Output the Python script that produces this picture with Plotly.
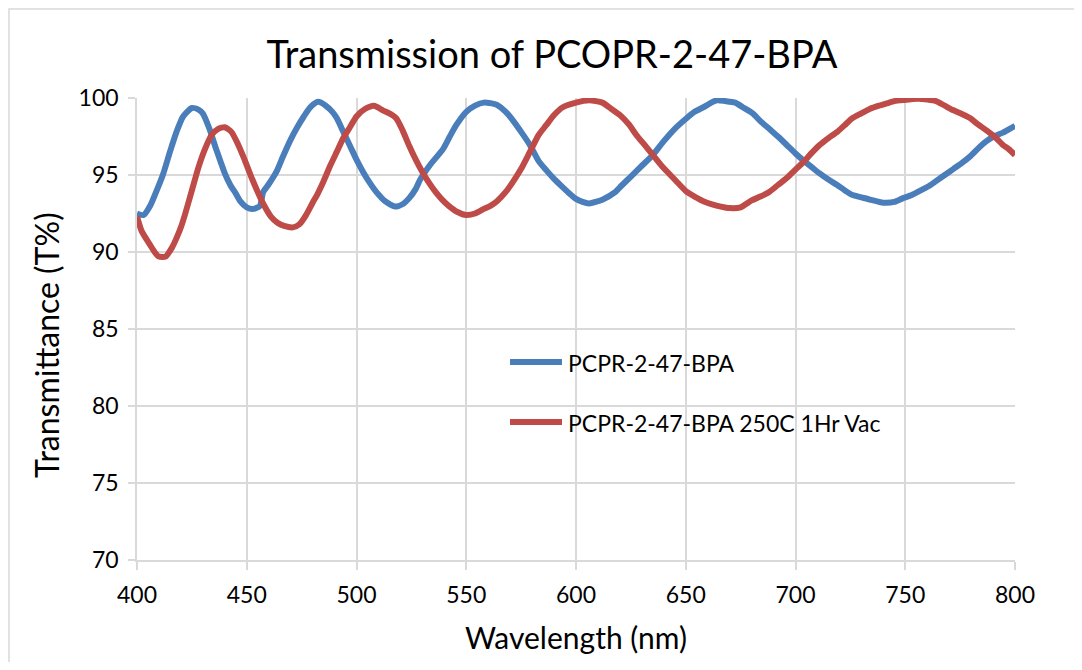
import plotly.graph_objects as go

# ---- data ----
blue_nm = [400, 403, 406, 409, 412, 415, 418, 421, 425, 428, 430, 433, 436, 438, 440, 442.5, 445, 447, 450, 453, 456,
           457.5, 460, 463.5, 466.5, 470, 473, 476, 479, 482.5, 486, 489, 491, 494, 497, 500, 503, 506, 509, 513, 517.5,
           521, 524, 527, 529, 533.5, 539.5, 542.5, 545.5, 550, 554, 558, 563, 564, 568, 571.5, 575, 579, 583, 586.5,
           590, 594, 597, 600, 603, 606, 612, 618, 620, 625, 630, 635, 640, 645, 650.5, 654, 658, 664, 668, 672.5, 676,
           680.5, 684, 688, 692, 696, 700, 704, 707.5, 711, 715, 719, 722.5, 726, 730, 734, 740, 745, 749, 753, 757,
           761, 764, 768, 772, 776, 779.5, 783, 787, 791, 794.5, 797, 800]
blue_t = [92.5, 92.4, 93.0, 94.0, 95.1, 96.5, 97.8, 98.8, 99.35, 99.25, 99.0, 98.0, 96.7, 95.9, 95.1, 94.35, 93.8, 93.3,
          92.9, 92.8, 93.0, 93.9, 94.4, 95.2, 96.2, 97.3, 98.1, 98.8, 99.4, 99.75, 99.5, 99.1, 98.7, 97.8, 96.9, 96.0,
          95.2, 94.5, 93.9, 93.3, 92.95, 93.1, 93.5, 94.1, 94.7, 95.65, 96.7, 97.5, 98.25, 99.1, 99.5, 99.7, 99.6,
          99.55, 99.1, 98.5, 97.8, 96.95, 95.9, 95.3, 94.75, 94.2, 93.8, 93.45, 93.25, 93.15, 93.4, 93.9, 94.2, 94.9,
          95.6, 96.3, 97.2, 98.0, 98.7, 99.1, 99.4, 99.85, 99.8, 99.7, 99.4, 99.0, 98.5, 98.0, 97.5, 96.95, 96.4,
          95.9, 95.5, 95.1, 94.7, 94.35, 94.0, 93.7, 93.55, 93.4, 93.2, 93.25, 93.5, 93.7, 94.0, 94.3, 94.6, 95.0,
          95.4, 95.8, 96.2, 96.7, 97.2, 97.55, 97.75, 97.95, 98.2]

red_nm = [400, 402, 404, 406, 408, 410, 413, 416, 418, 420, 422, 425, 428, 431, 434, 437, 440, 443, 446, 449, 452, 455,
          458, 461, 464, 467, 471, 474, 477, 480, 482, 485, 488, 491, 494, 497, 500, 504, 508, 512, 515, 518, 521, 524,
          527, 530, 533, 536, 539, 542, 546, 550, 554, 558, 561, 564, 568, 571.5, 575, 579, 583, 586.5, 590, 594, 600,
          606, 612, 616, 620, 624, 627.5, 631, 635, 639, 643, 647, 650.5, 654, 658, 662, 666, 670, 675, 680, 684, 688,
          692, 696, 700, 704, 707.5, 711, 715, 719, 722.5, 726, 730, 734, 738, 741.5, 745, 749, 756, 764, 768, 772,
          776, 779.5, 783, 787, 791, 794.5, 797, 800]
red_t = [92.3, 91.4, 90.9, 90.45, 90.0, 89.7, 89.7, 90.3, 90.9, 91.6, 92.5, 94.0, 95.5, 96.7, 97.6, 98.0, 98.1, 97.8,
         97.0, 96.0, 94.9, 93.9, 93.0, 92.3, 91.9, 91.7, 91.6, 91.8, 92.4, 93.2, 93.7, 94.6, 95.6, 96.5, 97.4, 98.1,
         98.8, 99.3, 99.5, 99.2, 99.0, 98.7, 97.9, 96.9, 96.0, 95.2, 94.5, 93.9, 93.4, 93.0, 92.6, 92.4, 92.5, 92.8,
         93.0, 93.3, 93.9, 94.6, 95.4, 96.5, 97.6, 98.25, 98.9, 99.4, 99.7, 99.85, 99.7, 99.3, 98.9, 98.3, 97.6,
         97.0, 96.3, 95.6, 95.0, 94.4, 93.9, 93.6, 93.3, 93.1, 92.95, 92.85, 92.9, 93.35, 93.6, 93.9, 94.35, 94.8,
         95.35, 95.9, 96.45, 96.95, 97.4, 97.8, 98.25, 98.7, 99.0, 99.3, 99.5, 99.65, 99.8, 99.87, 99.95, 99.8, 99.5,
         99.2, 98.95, 98.7, 98.3, 97.9, 97.45, 96.95, 96.7, 96.3]

x_ticks = [400, 450, 500, 550, 600, 650, 700, 750, 800]
y_ticks = [70, 75, 80, 85, 90, 95, 100]

name_blue = "PCPR-2-47-BPA"
name_red = "PCPR-2-47-BPA 250C 1Hr Vac"
title_text = "Transmission of PCOPR-2-47-BPA"
x_title = "Wavelength (nm)"
y_title = "Transmittance (T%)"

BLUE = "#4A7EBB"
RED = "#BE4B48"
GRID = "#D9D9D9"
FONT = "Lato, 'Open Sans', sans-serif"

# the page body adds an 8px offset; figure coordinates = screen coordinates - 8
OFF = 8
W, H = 1082 - 2 * OFF, 670 - 2 * OFF
PLOT_L, PLOT_R, PLOT_T, PLOT_B = 137 - OFF, 1015 - OFF, 98 - OFF, 560 - OFF
L, R, T, B = PLOT_L, W - PLOT_R, PLOT_T, H - PLOT_B
pw, ph = W - L - R, H - T - B


def px_x(sx):
    return (sx - OFF - L) / pw


def px_y(sy):
    return (H - B - (sy - OFF)) / ph


fig = go.Figure()
fig.add_trace(go.Scatter(x=blue_nm, y=blue_t, mode="lines", name=name_blue,
                         line=dict(color=BLUE, width=6, shape="spline", smoothing=0.6)))
fig.add_trace(go.Scatter(x=red_nm, y=red_t, mode="lines", name=name_red,
                         line=dict(color=RED, width=6, shape="spline", smoothing=0.6)))

# legend drawn like the original (long line samples)
legend_items = [(name_blue, BLUE, 362), (name_red, RED, 422)]
shapes = []
annotations = []
for name, color, ypx in legend_items:
    shapes.append(dict(type="line", xref="paper", yref="paper",
                       x0=px_x(510), x1=px_x(562), y0=px_y(ypx), y1=px_y(ypx),
                       line=dict(color=color, width=6)))
    annotations.append(dict(text=name, xref="paper", yref="paper", x=px_x(566), y=px_y(ypx + 1),
                            xanchor="left", yanchor="middle", showarrow=False,
                            font=dict(size=23, family=FONT, color="#000000")))

annotations.append(dict(text=y_title, xref="paper", yref="paper", x=px_x(46), y=px_y(345),
                        xanchor="center", yanchor="middle", textangle=-90, showarrow=False,
                        font=dict(size=32, family=FONT, color="#000000")))

# chart-area border (top-left corner visible in the original)
shapes.append(dict(type="rect", xref="paper", yref="paper",
                   x0=px_x(9), x1=px_x(1100), y0=px_y(700), y1=px_y(9),
                   line=dict(color=GRID, width=1.5), fillcolor="rgba(0,0,0,0)", layer="below"))

fig.update_layout(
    width=W, height=H,
    margin=dict(l=L, r=R, t=T, b=B, autoexpand=False),
    paper_bgcolor="white", plot_bgcolor="white",
    showlegend=False,
    font=dict(family=FONT, color="#000000"),
    title=dict(text=title_text, x=(552 - OFF) / W, xanchor="center", xref="container",
               y=1 - (55 - OFF) / H, yanchor="middle", yref="container",
               font=dict(size=38, family=FONT, color="#000000")),
    xaxis=dict(range=[400, 800], tickvals=x_ticks, ticktext=[str(v) for v in x_ticks],
               showgrid=True, gridcolor=GRID, gridwidth=1.5, zeroline=False,
               showline=True, linecolor=GRID, linewidth=1.5, automargin=False,
               ticks="outside", ticklen=8, tickcolor=GRID, tickwidth=1.5,
               tickfont=dict(size=23, family=FONT), ticklabelstandoff=6,
               title=dict(text=x_title, font=dict(size=30, family=FONT), standoff=21)),
    yaxis=dict(range=[70, 100], tickvals=y_ticks, ticktext=[str(v) for v in y_ticks],
               showgrid=True, gridcolor=GRID, gridwidth=1.5, zeroline=False,
               showline=True, linecolor=GRID, linewidth=1.5, automargin=False,
               ticks="outside", ticklen=7, tickcolor=GRID, tickwidth=1.5,
               tickfont=dict(size=23, family=FONT), ticklabelstandoff=5),
    shapes=shapes,
    annotations=annotations,
)

fig.write_html("out.html")
